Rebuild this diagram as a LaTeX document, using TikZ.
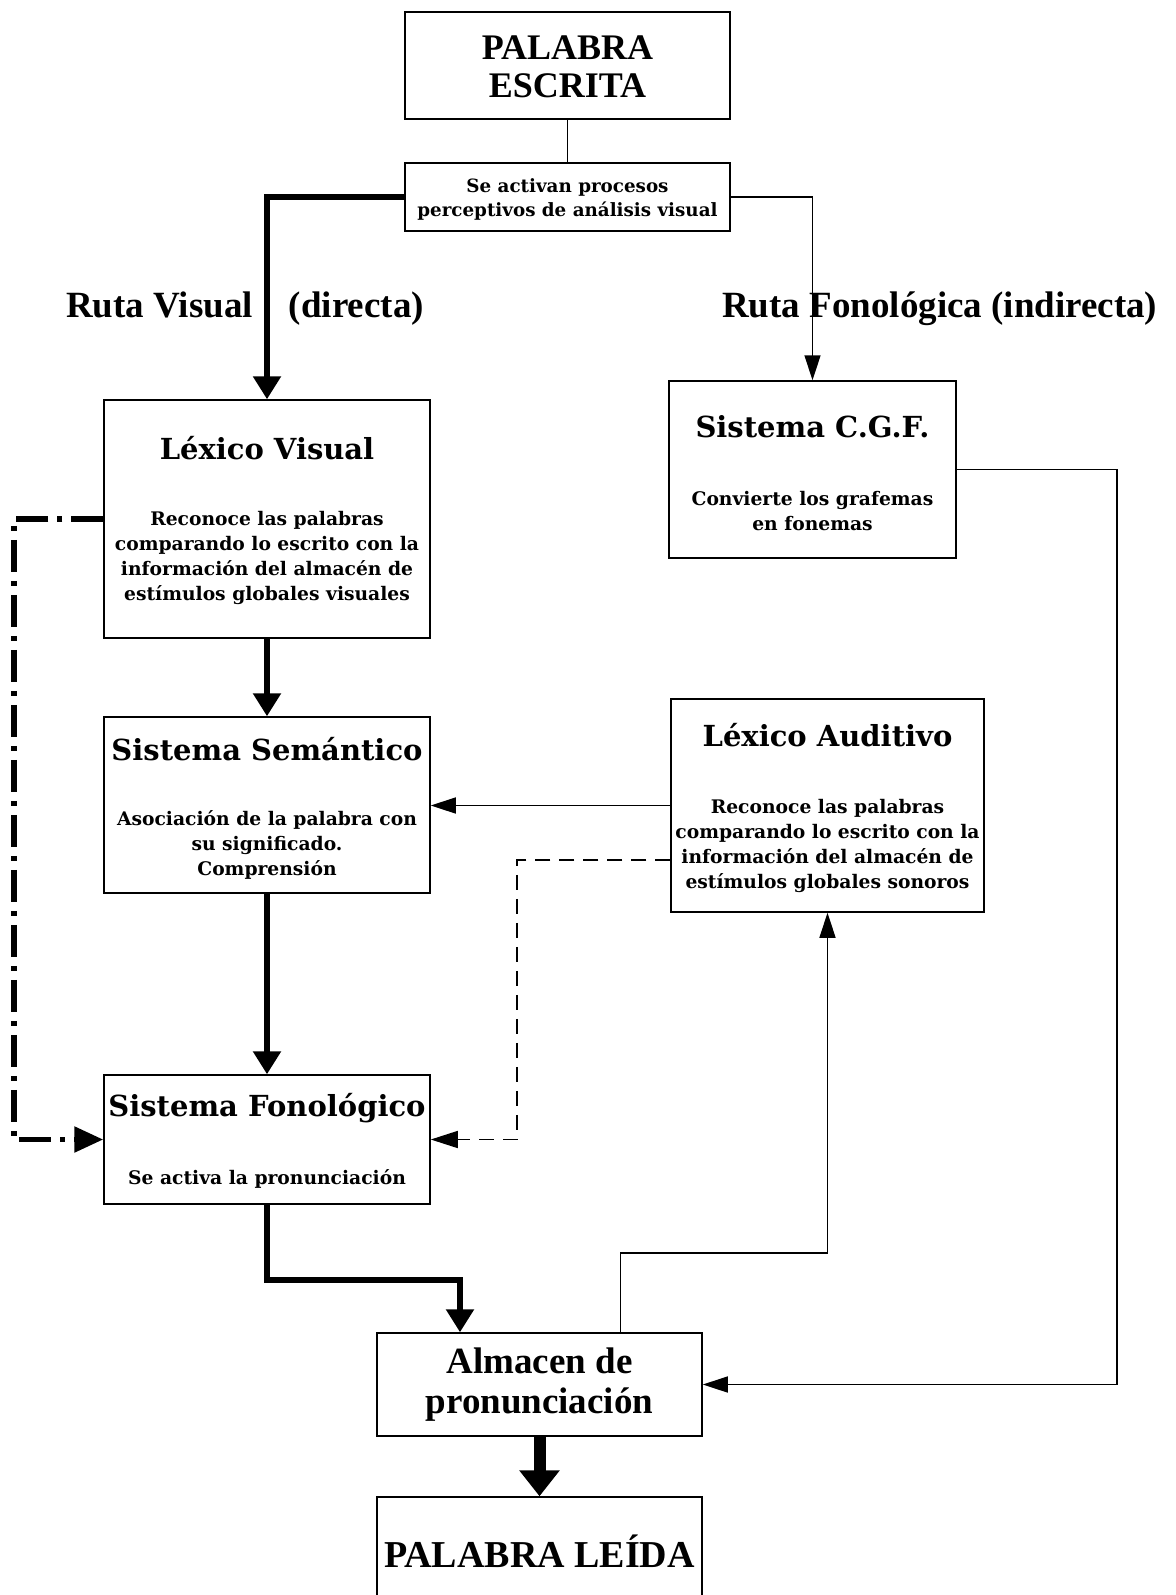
\documentclass[tikz,border=0pt]{standalone}
\usepackage{fontspec}
\setmainfont{Liberation Serif}
\newfontfamily\boxfont{DejaVu Serif}
\usetikzlibrary{arrows.meta,calc}
\begin{document}
\begin{tikzpicture}[x=1pt,y=-1pt,
  box/.style={draw, line width=1.5pt, inner sep=0pt, rectangle},
  ttl/.style={font=\boxfont\bfseries\fontsize{29}{32}\selectfont, inner sep=0pt},
  bdy/.style={font=\boxfont\bfseries\fontsize{18.7}{25}\selectfont, align=center, inner sep=0pt},
  bigtxt/.style={font=\bfseries\fontsize{37}{40}\selectfont, align=center, inner sep=0pt},
  thinline/.style={line width=1.5pt},
  thickline/.style={line width=5.5pt},
  thinarr/.style={thinline, -{Triangle[width=16pt,length=25pt]}},
  thickarr/.style={thickline, -{Triangle[width=27pt,length=23pt]}},
  vthickarr/.style={line width=12pt, -{Triangle[width=39pt,length=26pt]}},
  dashdotarr/.style={line width=5.5pt, dash pattern=on 32pt off 9pt on 5pt off 9pt, -{Triangle[width=25pt,length=29pt]}},
  dashedarr/.style={thinline, dash pattern=on 15pt off 9pt, -{Triangle[width=17pt,length=27pt]}}
]
\useasboundingbox (0,0) rectangle (1175,1595);
\fill[white] (0,0) rectangle (1175,1595);

% boxes
\node[box, minimum width=325pt, minimum height=107pt] (pe) at (567.5,65.5) {};
\node[bigtxt, font=\bfseries\fontsize{36}{38.5}\selectfont] (pet) at (567.5,67) {PALABRA\\ESCRITA};

\node[box, minimum width=325pt, minimum height=68pt] (sa) at (567.5,197) {};
\node[font=\boxfont\bfseries\fontsize{18.3}{24}\selectfont, align=center, inner sep=0pt] (sat) at (567.5,199) {Se activan procesos\\perceptivos de análisis visual};

\node[bigtxt, anchor=base west] (rv) at (66,317) {Ruta Visual\hspace{36pt}(directa)};
\node[bigtxt, anchor=base west] (rf) at (722,317) {Ruta Fonológica (indirecta)};

\node[box, minimum width=326pt, minimum height=238pt] (lv) at (267,519) {};
\node[ttl] (lvt) at (267,448) {Léxico Visual};
\node[bdy] (lvb) at (267,558) {Reconoce las palabras\\comparando lo escrito con la\\información del almacén de\\estímulos globales visuales};

\node[box, minimum width=287pt, minimum height=177pt] (cgf) at (812.5,469.5) {};
\node[ttl] (cgft) at (812.5,427) {Sistema C.G.F.};
\node[bdy] (cgfb) at (812.5,511) {Convierte los grafemas\\en fonemas};

\node[box, minimum width=326pt, minimum height=176pt] (ss) at (267,805) {};
\node[ttl] (sst) at (267,749) {Sistema Semántico};
\node[bdy] (ssb) at (267,845) {Asociación de la palabra con\\su significado.\\Comprensión};

\node[box, minimum width=313pt, minimum height=213pt] (la) at (827.5,805.5) {};
\node[ttl] (lat) at (827.5,735) {Léxico Auditivo};
\node[bdy] (lab) at (827.5,845.5) {Reconoce las palabras\\comparando lo escrito con la\\información del almacén de\\estímulos globales sonoros};

\node[box, minimum width=326pt, minimum height=129pt] (sf) at (267,1139.5) {};
\node[ttl] (sft) at (267,1108) {Sistema Fonológico};
\node[bdy] (sfb) at (267,1179) {Se activa la pronunciación};

\node[box, minimum width=325pt, minimum height=103pt] (ap) at (539.5,1384.5) {};
\node[bigtxt] (apt) at (539.5,1385) {Almacen de\\pronunciación};

\node[box, minimum width=325pt, minimum height=142pt] (pl) at (539.5,1568) {};
\node[bigtxt, font=\bfseries\fontsize{38}{40}\selectfont] (plt) at (539.5,1551) {PALABRA LEÍDA};

% helper coordinates
\coordinate (c1) at (14,0);
\coordinate (c2) at (1117,0);
\coordinate (c3) at (620.5,1253);
\coordinate (c4) at (460,1280);
\coordinate (c5) at (517,860);

% connectors
\draw[thinline] (pe.south) -- (sa.north);
\draw[thickarr] (sa.west) -| (lv.north);
\draw[thinarr] (sa.east) -| (cgf.north);
\draw[thickarr] (lv.south) -- (ss.north);
\draw[thickarr] (ss.south) -- (sf.north);
\draw[thickarr] (sf.south) |- (c4) -- (c4 |- ap.north);
\draw[vthickarr] (ap.south) -- (pl.north);
\draw[thinarr] (la.west) -- (la.west -| ss.east);
\draw[dashedarr] (la.west |- c5) -- (c5) -- (c5 |- sf.east) -- (sf.east);
\draw[dashdotarr] (lv.west) -- (lv.west -| c1) -- (c1 |- sf.west) -- (sf.west);
\draw[thinarr] (cgf.east) -- (cgf.east -| c2) -- (c2 |- ap.east) -- (ap.east);
\draw[thinarr] (c3 |- ap.north) -- (c3) -| (la.south);
\end{tikzpicture}
\end{document}
